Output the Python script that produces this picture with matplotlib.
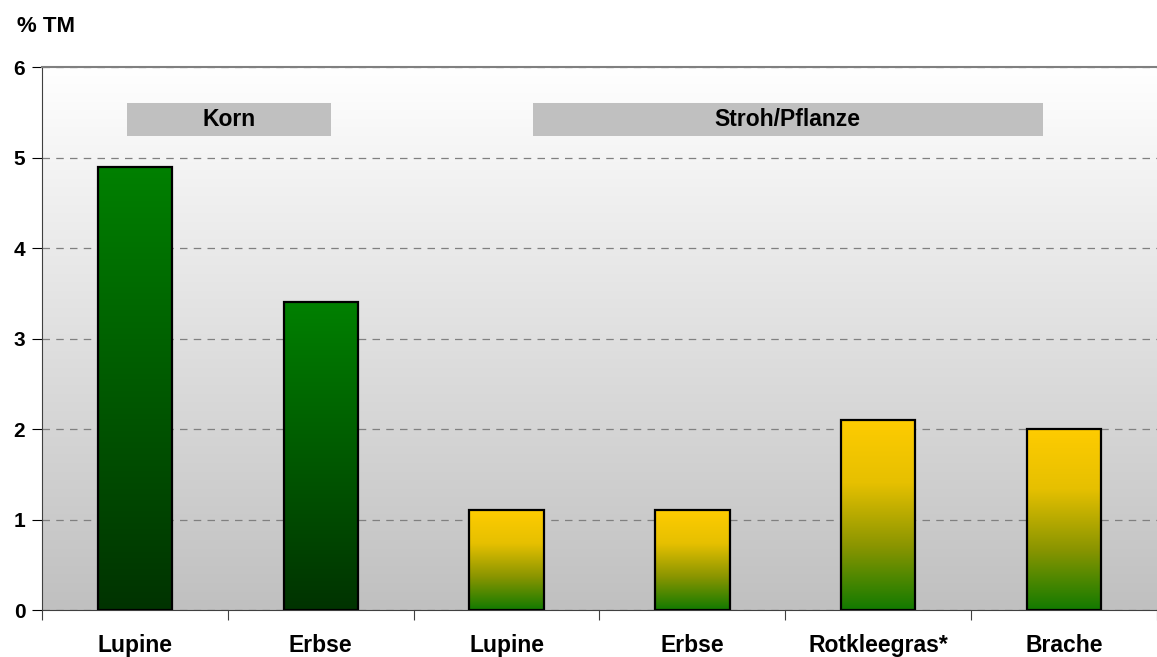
import matplotlib.pyplot as plt
import numpy as np
from matplotlib.colors import LinearSegmentedColormap

categories = ['Lupine', 'Erbse', 'Lupine', 'Erbse', 'Rotkleegras*', 'Brache']
values = [4.9, 3.4, 1.1, 1.1, 2.1, 2.0]
group = ['Korn', 'Korn', 'Stroh', 'Stroh', 'Stroh', 'Stroh']
y_ticks = [0, 1, 2, 3, 4, 5, 6]

plt.rcParams['font.family'] = ['Liberation Sans', 'DejaVu Sans']

fig = plt.figure(figsize=(11.57, 6.57), dpi=100)
ax = fig.add_axes([0.0363, 0.0715, 0.9637, 0.8265])

n = len(categories)
x = np.arange(n)
ax.set_xlim(-0.5, n - 0.5)
ax.set_ylim(0, 6)

# background gradient white -> grey
bg = LinearSegmentedColormap.from_list('bg', ['#c0c0c0', '#ffffff'])
grad = np.linspace(0, 1, 256).reshape(-1, 1)
ax.imshow(grad, cmap=bg, aspect='auto', origin='lower',
          extent=[-0.5, n - 0.5, 0, 6], zorder=0)

ax.yaxis.grid(True, linestyle=(0, (6, 5)), color='#808080', linewidth=0.9, zorder=1)

green_cm = LinearSegmentedColormap.from_list('g', ['#003300', '#008000'])
yellow_cm = LinearSegmentedColormap.from_list('y', ['#127a00', '#8a9500', '#e6c000', '#ffcc00'])

w = 0.40
for xi, v, g in zip(x, values, group):
    cm = green_cm if g == 'Korn' else yellow_cm
    ax.imshow(grad, cmap=cm, aspect='auto', origin='lower',
              extent=[xi - w / 2, xi + w / 2, 0, v], zorder=2)
    ax.bar(xi, v, width=w, facecolor='none', edgecolor='black',
           linewidth=1.6, zorder=3)

# group header boxes
ax.add_patch(plt.Rectangle((-0.043, 5.24), 1.097, 0.36, facecolor='#c0c0c0',
                           edgecolor='none', zorder=3))
ax.add_patch(plt.Rectangle((2.14, 5.24), 2.747, 0.36, facecolor='#c0c0c0',
                           edgecolor='none', zorder=3))
ax.text(0.505, 5.42, 'Korn', ha='center', va='center', fontsize=16.5,
        fontweight='bold', zorder=4)
ax.text(3.513, 5.42, 'Stroh/Pflanze', ha='center', va='center', fontsize=16.5,
        fontweight='bold', zorder=4)

ax.set_yticks(y_ticks)
ax.set_yticklabels([str(t) for t in y_ticks], fontsize=15, fontweight='bold')
ax.set_xticks(np.arange(-0.5, n, 1.0))
ax.set_xticklabels([])
ax.set_xticks(x, minor=True)
ax.set_xticklabels(categories, minor=True, fontsize=16.5, fontweight='bold')
ax.tick_params(axis='x', which='minor', length=0, pad=17)
ax.tick_params(axis='x', which='major', length=7, direction='out', color='#404040')
ax.tick_params(axis='y', length=7, direction='out', pad=5)

ax.spines['right'].set_visible(False)
ax.spines['top'].set_color('#808080')
ax.spines['top'].set_linewidth(1.5)
ax.spines['left'].set_color('#404040')
ax.spines['bottom'].set_color('#404040')

fig.text(17 / 1157, 1 - 27 / 657, '% TM', fontsize=16, fontweight='bold',
         ha='left', va='center')

fig.savefig('out.png', dpi=100)
